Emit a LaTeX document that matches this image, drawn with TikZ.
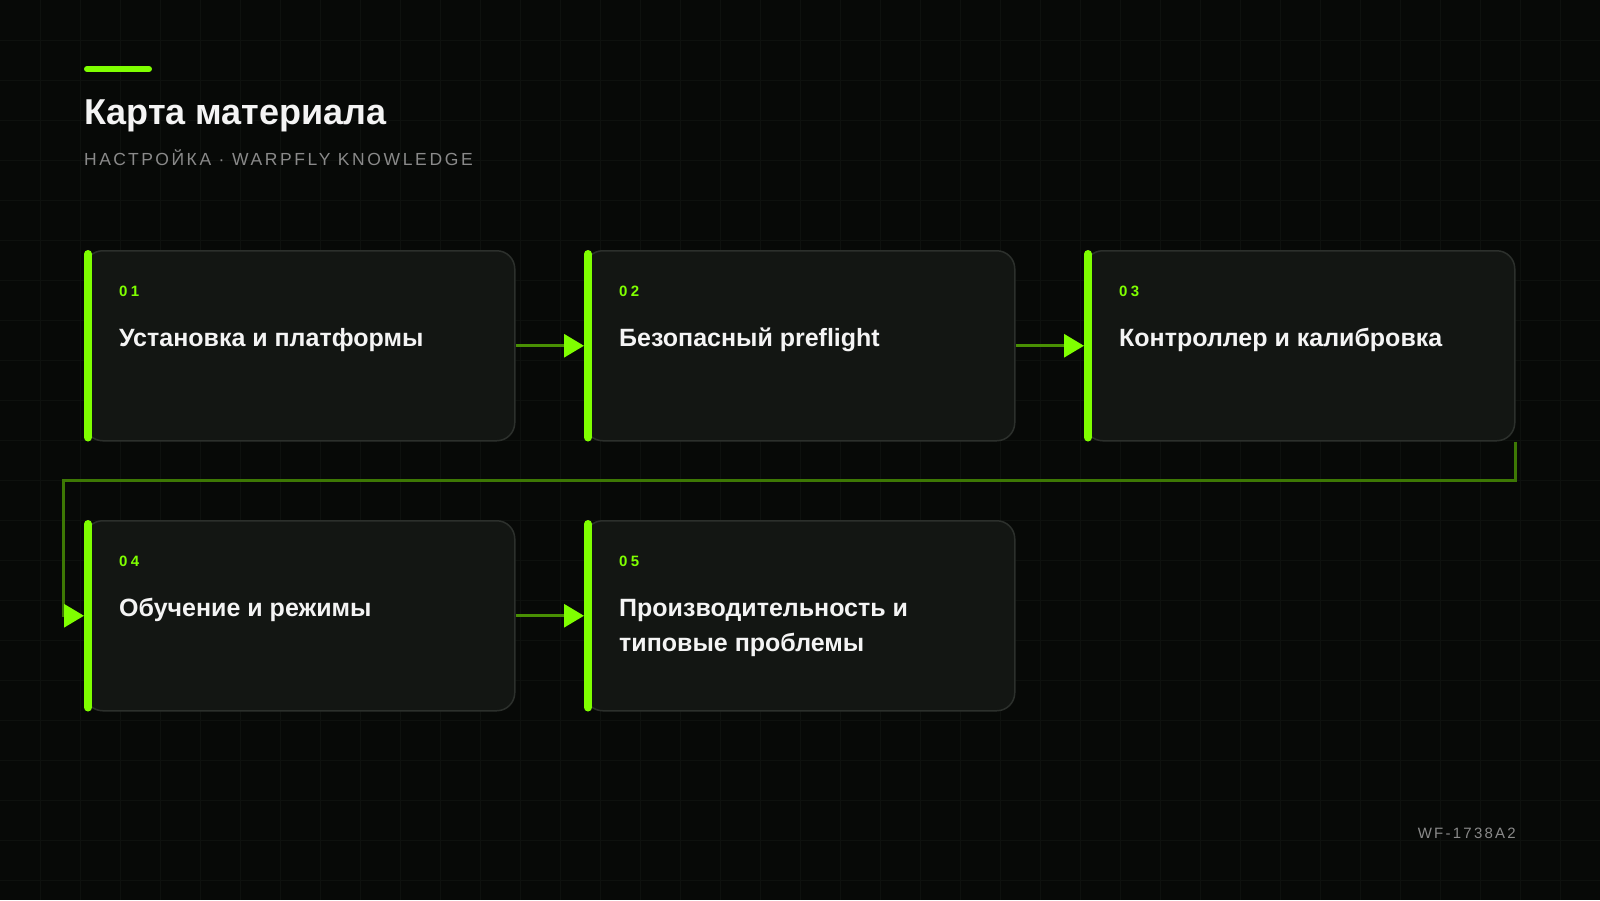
\documentclass[tikz,border=0pt]{standalone}
\usepackage{fontspec}
\setmainfont{Liberation Sans}
\newfontfamily\spacedfont[LetterSpace=15]{Liberation Sans}
\newfontfamily\numfont[LetterSpace=22]{Liberation Sans}
\usetikzlibrary{arrows.meta}
\usetikzlibrary{calc}

\definecolor{bgcol}{HTML}{070907}
\definecolor{gridcol}{HTML}{0E110E}
\definecolor{cardfill}{HTML}{131613}
\definecolor{cardline}{HTML}{2C302C}
\definecolor{wfgreen}{HTML}{7FFF00}
\definecolor{titlecol}{HTML}{F4F4F4}
\definecolor{subcol}{HTML}{8A8A8A}
\colorlet{flowcol}{wfgreen!55!bgcol}
\colorlet{loopcol}{wfgreen!45!bgcol}

\tikzset{
  gridline/.style={draw=gridcol, line width=1pt},
  card/.style={draw=cardline, fill=cardfill, line width=1.5pt, rounded corners=18pt,
    minimum width=430pt, minimum height=190pt, anchor=north west, inner sep=0pt},
  accent/.style={draw=wfgreen, line width=8pt, line cap=round},
  numlabel/.style={anchor=base west, inner sep=0pt, text=wfgreen,
    font=\numfont\bfseries\fontsize{15}{18}\selectfont},
  cardtitle/.style={anchor=base west, inner sep=0pt, text=titlecol, align=left,
    font=\bfseries\fontsize{25}{35}\selectfont},
  flow/.style={draw=flowcol, line width=3pt,
    -{Triangle[length=20pt,width=23pt,color=wfgreen]}},
  loopflow/.style={flow, draw=loopcol},
}

\begin{document}
\begin{tikzpicture}[x=1pt,y=-1pt]
    \fill[bgcol] (0,0) rectangle (1600,900);
    \useasboundingbox (0,0) rectangle (1600,900);
    \foreach \g in {40,80,...,1560} \draw[gridline] (\g,0) -- (\g,900);
    \foreach \g in {40,80,...,880} \draw[gridline] (0,\g) -- (1600,\g);

    \draw[wfgreen, line width=6pt, line cap=round] (87,69) -- (149,69);
    \node[anchor=base west, inner sep=0pt, text=titlecol,
        font=\bfseries\fontsize{36}{40}\selectfont] (title) at (84,124) {Карта материала};
    \node[anchor=base west, inner sep=0pt, text=subcol,
        font=\spacedfont\fontsize{17.5}{20}\selectfont] (subtitle) at (84,165)
        {НАСТРОЙКА · WARPFLY KNOWLEDGE};

    \foreach \i/\x/\y/\ty/\txt in {
        1/84/250/96/{Установка и платформы},
        2/584/250/96/{Безопасный preflight},
        3/1084/250/96/{Контроллер и калибровка},
        4/84/520/96/{Обучение и режимы},
        5/584/520/131/{Производительность и\\типовые проблемы}}
    {
        \node[card] (c\i) at (\x,\y) {};
        \draw[accent] ($(c\i.north west)+(4,4)$) -- ($(c\i.south west)+(4,-4)$);
        \node[numlabel] (n\i) at ($(c\i.north west)+(35,46)$) {0\i};
        \node[cardtitle] (t\i) at ($(c\i.north west)+(35,\ty)$) {\txt};
    }

    \draw[flow] (c1.east) -- (c2.west);
    \draw[flow] (c2.east) -- (c3.west);
    \draw[flow] (c4.east) -- (c5.west);
    \draw[loopflow] (c3.south east) -- ++(0,39) -| ($(c4.west)+(-21,0)$) -- (c4.west);

    \node[anchor=base east, inner sep=0pt, text=subcol,
        font=\spacedfont\fontsize{15}{18}\selectfont] (code) at (1516,838) {WF-1738A2};
\end{tikzpicture}
\end{document}
